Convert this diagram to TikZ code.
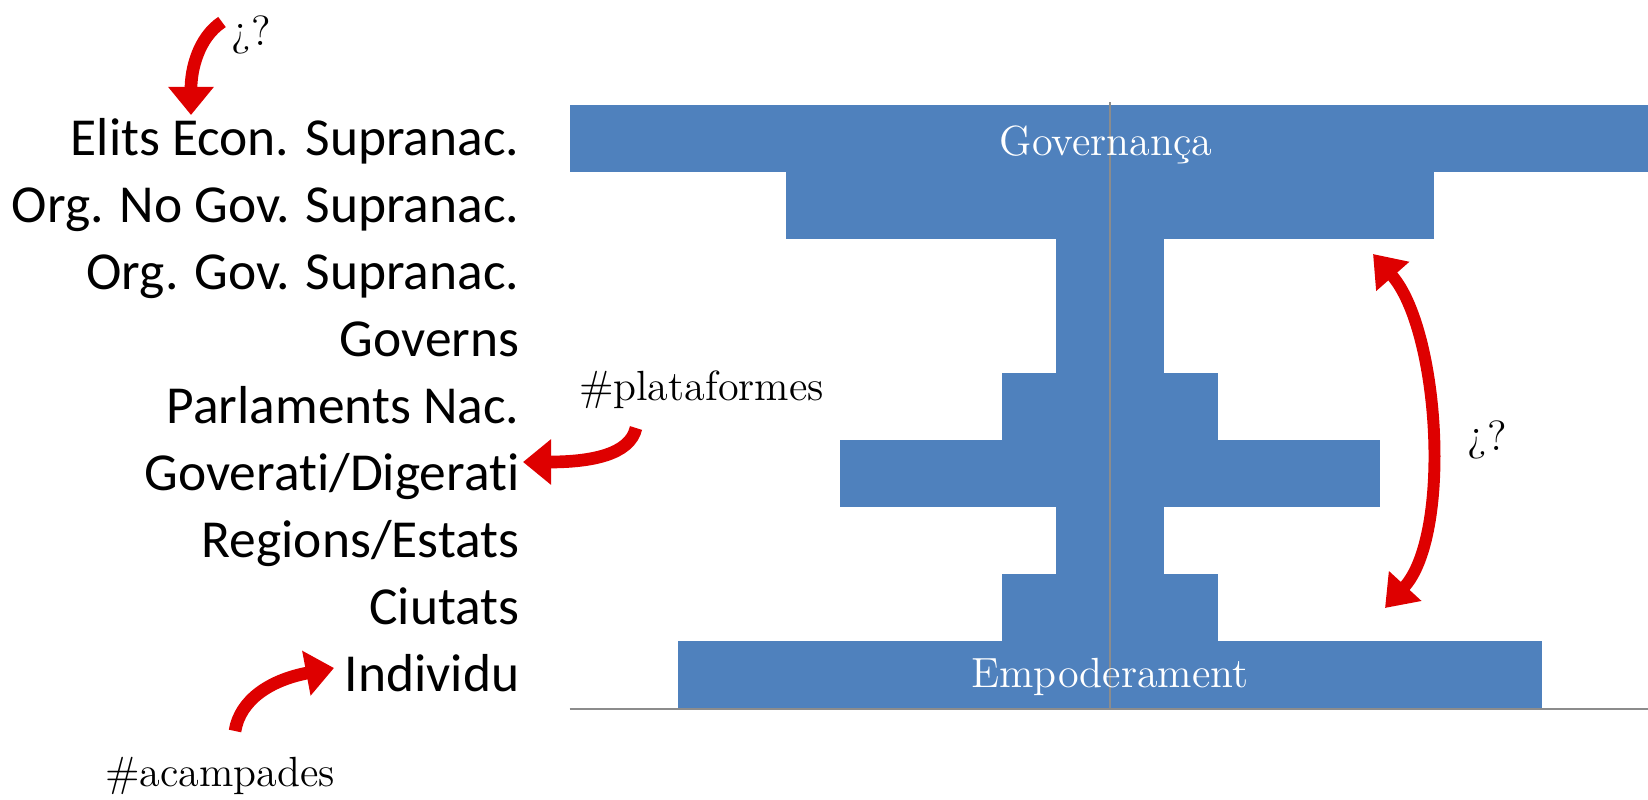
\documentclass[tikz,border=0pt]{standalone}
\usepackage{fontspec}
\newfontfamily\calibri[Ligatures=NoCommon]{Carlito}
\usetikzlibrary{arrows.meta}
\definecolor{barblue}{RGB}{79,129,189}
\definecolor{arrowred}{RGB}{222,0,0}
\definecolor{axisgray}{RGB}{140,140,140}
\tikzstyle{level} = [anchor=base east, inner sep=0pt, font=\calibri\fontsize{15.2pt}{18pt}\selectfont]
\tikzstyle{note} = [anchor=base, inner sep=0pt, font=\fontsize{12pt}{14pt}\selectfont]
\tikzstyle{redarrow} = [draw=arrowred, line width=3.6pt, -{Triangle[length=8pt, width=12.5pt]}]
\tikzstyle{axis} = [draw=axisgray, line width=0.6pt]

\begin{document}
\begin{tikzpicture}[x=0.01cm, y=-0.01cm]
      \useasboundingbox (0,0) rectangle (1648,800);

      \fill[barblue] (569.6,104.5) rectangle (1648,171.6);
      \fill[barblue] (785.6,171.6) rectangle (1433.6,238.7);
      \fill[barblue] (1055.6,238.7) rectangle (1163.6,305.8);
      \fill[barblue] (1055.6,305.8) rectangle (1163.6,372.9);
      \fill[barblue] (1001.6,372.9) rectangle (1217.6,440.0);
      \fill[barblue] (839.6,440.0) rectangle (1379.6,507.1);
      \fill[barblue] (1055.6,507.1) rectangle (1163.6,574.2);
      \fill[barblue] (1001.6,574.2) rectangle (1217.6,641.3);
      \fill[barblue] (677.6,641.3) rectangle (1541.6,708.4);

      \draw[axis] (1109.6,102) -- (1109.6,708.4);
      \draw[axis] (569.6,708.8) -- (1648,708.8);

      \node (elits) at (520, 155.1) [level] {Elits Econ. Supranac.};
      \node (orgnogov) at (520, 222.2) [level] {Org. No Gov. Supranac.};
      \node (orggov) at (520, 289.3) [level] {Org. Gov. Supranac.};
      \node (governs) at (520, 356.4) [level] {Governs};
      \node (parlaments) at (520, 423.5) [level] {Parlaments Nac.};
      \node (goverati) at (520, 490.6) [level] {Goverati/Digerati};
      \node (regions) at (520, 557.7) [level] {Regions/Estats};
      \node (ciutats) at (520, 624.8) [level] {Ciutats};
      \node (individu) at (520, 691.9) [level] {Individu};

      \node (governanca) at (1106, 155.5) [note, text=white] {Governança};
      \node (empoderament) at (1110, 687) [note, text=white] {Empoderament};
      \node (plataformes) at (701.5, 400.4) [note] {\#plataformes};
      \node (acampades) at (220, 786) [note] {\#acampades};
      \node (qtop) at (251, 45) [note] {¿?};
      \node (qright) at (1487, 450) [note] {¿?};

      % arrow ends
      \coordinate (qtopfoot) at (222, 22);
      \coordinate (econtop) at (191, 115);
      \coordinate (platfoot) at (636, 428);
      \coordinate (goveratitip) at (523, 462);
      \coordinate (acampfoot) at (235, 731);
      \coordinate (individutip) at (334, 668);
      \coordinate (uptip) at (1373, 254);
      \coordinate (downtip) at (1385, 608);

      \draw[redarrow] (qtopfoot) .. controls (198, 38) and (191, 70) .. (econtop);
      \draw[redarrow] (platfoot) .. controls (630, 455) and (590, 462) .. (goveratitip);
      \draw[redarrow] (acampfoot) .. controls (240, 700) and (270, 680) .. (individutip);
      \draw[redarrow, {Triangle[length=8.5pt, width=12pt]}-{Triangle[length=8.5pt, width=12pt]}, line width=3.4pt]
            (uptip) .. controls (1440, 330) and (1452, 535) .. (downtip);
    \end{tikzpicture}
\end{document}
